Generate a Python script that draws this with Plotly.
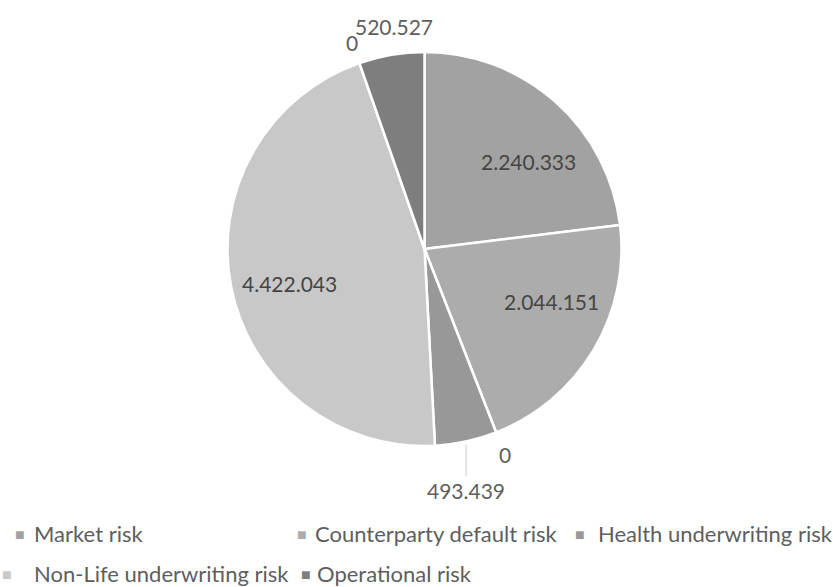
import math
import plotly.graph_objects as go

# ---- data ----
slice_labels = ["Market risk", "Counterparty default risk", "Life underwriting risk",
                "Health underwriting risk", "Non-Life underwriting risk",
                "Intangible asset risk", "Operational risk"]
slice_values = [2240333, 2044151, 0, 493439, 4422043, 0, 520527]
slice_colors = ["#a2a2a2", "#acacac", "#9c9c9c", "#989898", "#c8c8c8", "#8c8c8c", "#7e7e7e"]
legend_items = ["Market risk", "Counterparty default risk", "Health underwriting risk",
                "Non-Life underwriting risk", "Operational risk"]

W, H = 833, 587
CX, CY, R = 424.5, 249, 197  # pie centre / radius in px

# label placement style: (fraction along slice, radius factor)
label_style = {0: (0.60, 0.69), 1: (0.39, 0.70), 2: (0.5, 1.12), 4: (0.48, 0.71),
               5: (0.5, 1.11), 6: (0.60, 1.14)}


def fmt(v):
    return f"{v:,}".replace(",", ".")


def px_to_paper(x, y):
    return x / W, 1 - y / H


fig = go.Figure()
fig.add_trace(go.Pie(
    labels=slice_labels, values=slice_values, sort=False, direction="clockwise",
    rotation=0, showlegend=False,
    marker=dict(colors=slice_colors, line=dict(color="white", width=2.5)),
    textinfo="none", hoverinfo="label+value",
    domain=dict(x=[(CX - R) / W, (CX + R) / W], y=[(H - CY - R) / H, (H - CY + R) / H]),
))

total = sum(slice_values)
cum = 0
for i, v in enumerate(slice_values):
    a0 = cum / total * 2 * math.pi
    cum += v
    a1 = cum / total * 2 * math.pi
    if i == 3:
        mid = (a0 + a1) / 2
        ex = CX + R * math.sin(mid)
        ey = CY - R * math.cos(mid) + 3
        px, py = px_to_paper(ex, ey)
        fig.add_annotation(x=px, y=py, xref="paper", yref="paper",
                           text=fmt(v), showarrow=True, arrowhead=0, arrowwidth=1.2,
                           arrowcolor="#d4d4d4", ax=0, ay=46,
                           font=dict(size=21, color="#5e5e5e"))
        continue
    frac, rf = label_style[i]
    ang = a0 + frac * (a1 - a0)
    r = rf * R
    x = CX + r * math.sin(ang)
    y = CY - r * math.cos(ang)
    px, py = px_to_paper(x, y)
    color = "#454545" if rf < 1 else "#5e5e5e"
    fig.add_annotation(x=px, y=py, xref="paper", yref="paper",
                       xanchor="center", yanchor="middle",
                       text=fmt(v), showarrow=False,
                       font=dict(size=21, color=color))

# manual legend (the reference shows only five entries)
marker_pos = [(20, 533), (302, 533), (580, 533), (7, 573), (306, 573)]
text_pos = [(32, 533), (313, 533), (596, 533), (32, 573), (315, 573)]
for name, (mx, my), (tx, ty) in zip(legend_items, marker_pos, text_pos):
    col = slice_colors[slice_labels.index(name)]
    px, py = px_to_paper(mx, my)
    fig.add_annotation(x=px, y=py, xref="paper", yref="paper", showarrow=False,
                       xanchor="center", yanchor="middle", text="■",
                       font=dict(size=16, color=col))
    px, py = px_to_paper(tx, ty)
    fig.add_annotation(x=px, y=py, xref="paper", yref="paper", showarrow=False,
                       xanchor="left", yanchor="middle", text=name,
                       font=dict(size=22, color="#5e5e5e"))

fig.update_layout(
    width=W, height=H, margin=dict(l=0, r=0, t=0, b=0),
    paper_bgcolor="white", plot_bgcolor="white",
    font=dict(family="Lato, Open Sans, sans-serif", size=16, color="#595959"),
)
fig.write_html("out.html")
